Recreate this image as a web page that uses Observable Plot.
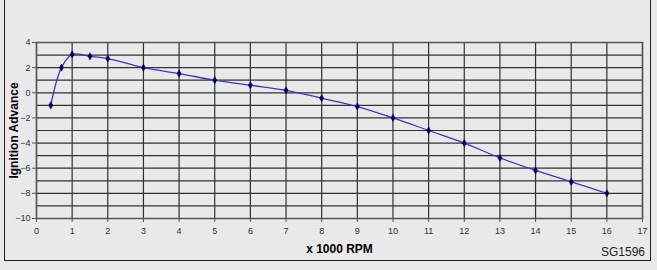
<!DOCTYPE html>
<html>
<head>
<meta charset="utf-8">
<script src="https://cdn.jsdelivr.net/npm/d3@7"></script>
<script src="https://cdn.jsdelivr.net/npm/@observablehq/plot@0.6"></script>
<style>
  html, body { margin: 0; padding: 0; background: #e9e9e9; }
  body { width: 657px; height: 270px; position: relative; overflow: hidden; font-family: "Liberation Sans", Arial, sans-serif; }
  #frame { position: absolute; left: 4px; top: -6px; width: 647px; height: 267px; border: 1px solid #222; box-sizing: border-box; }
  #chart { position: absolute; left: 0; top: 0; }
  #code { position: absolute; right: 12px; top: 245px; font-size: 12px; color: #222; }
</style>
</head>
<body>
<div id="frame"></div>
<div id="chart"></div>
<div id="code">SG1596</div>
<script>
const rpm = [0.4, 0.7, 1, 1.5, 2, 3, 4, 5, 6, 7, 8, 9, 10, 11, 12, 13, 14, 15, 16];
const advance = [-1, 2, 3.05, 2.9, 2.72, 2.0, 1.53, 1.0, 0.6, 0.2, -0.43, -1.1, -2.0, -3.0, -4.0, -5.18, -6.18, -7.08, -8.0];
const xTicks = [0,1,2,3,4,5,6,7,8,9,10,11,12,13,14,15,16,17];
const yTicks = [4,2,0,-2,-4,-6,-8,-10];
const yGrid = [4,3,2,1,0,-1,-2,-3,-4,-5,-6,-7,-8,-9,-10];
const xLabel = "x 1000 RPM";
const yLabel = "Ignition Advance";

const data = rpm.map((x, i) => ({x, y: advance[i]}));

const chart = Plot.plot({
  width: 657,
  height: 270,
  marginLeft: 36,
  marginRight: 15,
  marginTop: 42,
  marginBottom: 52,
  style: {background: "transparent", fontFamily: "'Liberation Sans', Arial, sans-serif", fontSize: "9px", color: "#333"},
  x: {domain: [0, 17], ticks: xTicks, tickSize: 4, tickPadding: 4, label: null},
  y: {domain: [-10, 4], ticks: yTicks, tickSize: 4, tickPadding: 2, label: null},
  marks: [
    Plot.gridX(xTicks, {stroke: "#333", strokeOpacity: 1, strokeWidth: 1.2}),
    Plot.gridY(yGrid, {stroke: "#333", strokeOpacity: 1, strokeWidth: 1.2}),
    Plot.frame({stroke: "#555", strokeWidth: 1.5}),
    Plot.axisX({ticks: xTicks, tickSize: 4, tickPadding: 5, fill: "#333", stroke: "#555", label: null}),
    Plot.axisY({ticks: yTicks, tickSize: 4, tickPadding: 2, fill: "#333", stroke: "#555", label: null}),
    Plot.line(data, {x: "x", y: "y", curve: "catmull-rom", stroke: "#3a3ac0", strokeWidth: 1.3}),
    Plot.dot(data, {x: "x", y: "y", symbol: "diamond", r: 2.2, fill: "#000060", stroke: "#000060", strokeWidth: 0.5}),
    Plot.text([xLabel], {frameAnchor: "bottom", dy: 34, text: d => d, fontWeight: "bold", fontSize: 12, fill: "#000", lineAnchor: "bottom", textAnchor: "middle"}),
    Plot.text([yLabel], {frameAnchor: "left", dx: -22, rotate: -90, text: d => d, fontWeight: "bold", fontSize: 12, fill: "#000", textAnchor: "middle"})
  ]
});
document.getElementById("chart").appendChild(chart);
</script>
</body>
</html>
